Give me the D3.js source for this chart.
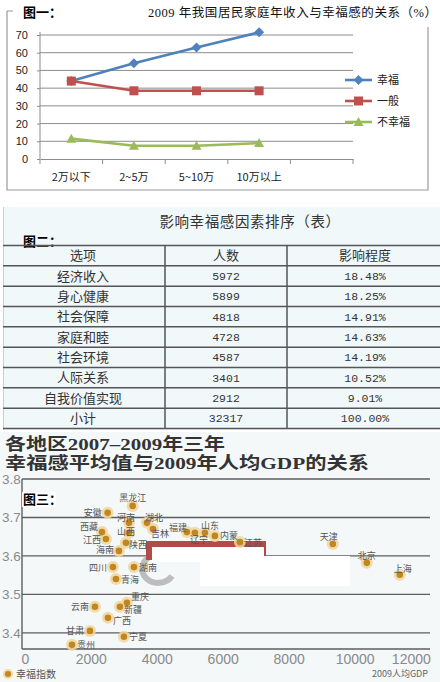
<!DOCTYPE html>
<html><head><meta charset="utf-8">
<script src="https://cdn.jsdelivr.net/npm/d3@7"></script>
<style>
html,body{margin:0;padding:0;background:#fff;}
svg{display:block;}
</style></head>
<body>
<svg id="c" width="440" height="682"></svg>
<script>
// ---------- Figure 1 data ----------
const incomeCats = ["2万以下", "2~5万", "5~10万", "10万以上"];
const seriesNames = ["幸福", "一般", "不幸福"];
const happy = [44, 54, 63, 71.5];
const normal = [44, 38.5, 38.5, 38.5];
const unhappy = [11.5, 7.5, 7.5, 9];
const yTicks1 = [0, 10, 20, 30, 40, 50, 60, 70];

// ---------- Figure 2 data ----------
const tableHeader = ["选项", "人数", "影响程度"];
const factorNames = ["经济收入", "身心健康", "社会保障", "家庭和睦", "社会环境", "人际关系", "自我价值实现", "小计"];
const factorCounts = ["5972", "5899", "4818", "4728", "4587", "3401", "2912", "32317"];
const factorShares = ["18.48%", "18.25%", "14.91%", "14.63%", "14.19%", "10.52%", "9.01%", "100.00%"];

// ---------- Figure 3 data ----------
const provinces = ["黑龙江","安徽","河南","湖北","吉林","山西","西藏","江西","陕西","海南","四川","湖南","青海",
  "福建","辽宁","山东","内蒙","江苏","天津","北京","上海","重庆","新疆","云南","广西","甘肃","宁夏","贵州"];
const gdpPerCapita = [3255,2497,3142,3688,3870,3142,2324,2445,3050,2839,2658,3294,2748,
  4900,5142,5445,5748,6506,9324,10355,11355,3082,2870,2112,2506,1961,2991,1415];
const happinessIdx = [3.730,3.712,3.686,3.686,3.670,3.660,3.662,3.644,3.634,3.613,3.571,3.571,3.540,
  3.662,3.660,3.660,3.652,3.636,3.631,3.582,3.551,3.478,3.468,3.468,3.439,3.405,3.390,3.369];
const xTicks3 = [0, 2000, 4000, 6000, 8000, 10000, 12000];
const yTicks3 = [3.4, 3.5, 3.6, 3.7, 3.8];

// label placement (style only)
const labelPlace = {
  "黑龙江":["middle",0,-8],"安徽":["end",-6,0],"河南":["middle",-3,-5],"湖北":["middle",7,-5],
  "吉林":["middle",7,4],"山西":["middle",-3,-1],"西藏":["end",-4,-6],"江西":["end",-5,0],
  "陕西":["start",3,2],"海南":["end",-5,-1],"四川":["end",-6,0],"湖南":["start",5,0],
  "青海":["start",5,0],"福建":["middle",-9,-5],"辽宁":["middle",4,7],"山东":["middle",5,-7],
  "内蒙":["start",5,0],"江苏":["start",4,0],"天津":["middle",-4,-8],"北京":["middle",0,-7],
  "上海":["middle",3,-6],"重庆":["start",4,-6],"新疆":["start",4,3],"云南":["end",-6,0],
  "广西":["start",5,3],"甘肃":["end",-6,0],"宁夏":["start",5,0],"贵州":["start",5,0]
};

const svg = d3.select("#c");
const CJK = "'Noto Sans CJK SC', 'Noto Sans', sans-serif";

// ================= Figure 1 =================
const g1 = svg.append("g");
g1.append("path").attr("d","M7,11 L13,11 M7,11 L7,190 L428,190 L428,27")
  .attr("fill","none").attr("stroke","#9a9a9a").attr("stroke-width",1.2);
g1.append("text").attr("x",23).attr("y",17).text("图一：")
  .attr("font-family",CJK).attr("font-size",13).attr("font-weight","bold").attr("fill","#000");
g1.append("text").attr("x",148).attr("y",17).text("2009 年我国居民家庭年收入与幸福感的关系（%）")
  .attr("font-family","'Liberation Serif', 'Noto Sans CJK SC', serif").attr("font-size",12.5)
  .attr("fill","#111").attr("textLength",289).attr("lengthAdjust","spacing");

const x1 = d3.scaleBand().domain([...incomeCats, "_pad"]).range([40, 353]);
const y1 = d3.scaleLinear().domain([0, 70]).range([159, 35]);

g1.selectAll(".g1grid").data(yTicks1.filter(d=>d>0)).enter().append("line")
  .attr("x1",40).attr("x2",353).attr("y1",d=>y1(d)).attr("y2",d=>y1(d))
  .attr("stroke","#8c8c8c").attr("stroke-width",1);
const ya1 = g1.append("g").attr("transform","translate(40,0)")
  .call(d3.axisLeft(y1).tickValues(yTicks1).tickSize(3).tickPadding(9));
ya1.select(".domain").attr("stroke","#8c8c8c").attr("d","M0,32V159");
ya1.selectAll(".tick line").attr("stroke","#8c8c8c");
ya1.selectAll("text").attr("font-family","'Liberation Sans', Arial, sans-serif").attr("font-size",11).attr("fill","#222");
const xa1 = g1.append("g").attr("transform","translate(0,159)")
  .call(d3.axisBottom(x1).tickSize(0).tickPadding(14).tickFormat(d=>d==="_pad"?"":d));
xa1.select(".domain").attr("stroke","#8c8c8c");
xa1.selectAll("text").attr("font-family",CJK).attr("font-size",11).attr("fill","#222");
const bounds = x1.domain().map(d=>x1(d)).concat([353]);
g1.selectAll(".xt1").data(bounds).enter().append("line")
  .attr("x1",d=>d).attr("x2",d=>d).attr("y1",159).attr("y2",164).attr("stroke","#8c8c8c");

const colors = ["#4F81BD","#C0504D","#9BBB59"];
const seriesVals = [happy, normal, unhappy];
const cx = c => x1(c) + x1.bandwidth()/2;
const line1 = d3.line().x((d,i)=>cx(incomeCats[i])).y(d=>y1(d));
function marker(sel, k, x, y){
  if(k===0){
    sel.append("path").attr("d",`M${x},${y-5}L${x+5},${y}L${x},${y+5}L${x-5},${y}Z`).attr("fill",colors[0]);
  } else if(k===1){
    sel.append("rect").attr("x",x-4.5).attr("y",y-4.5).attr("width",9).attr("height",9).attr("fill",colors[1]);
  } else {
    sel.append("path").attr("d",`M${x},${y-5}L${x+5},${y+4}L${x-5},${y+4}Z`).attr("fill",colors[2]);
  }
}
seriesVals.forEach((vals,k)=>{
  g1.append("path").datum(vals).attr("d",line1).attr("fill","none")
    .attr("stroke",colors[k]).attr("stroke-width",2.6);
  vals.forEach((v,i)=>marker(g1, k, cx(incomeCats[i]), y1(v)));
});
seriesNames.forEach((n,k)=>{
  const ly = 80 + k*21;
  g1.append("line").attr("x1",345).attr("x2",372).attr("y1",ly).attr("y2",ly)
    .attr("stroke",colors[k]).attr("stroke-width",2.6);
  marker(g1,k,358.5,ly);
  g1.append("text").attr("x",377).attr("y",ly+4).text(n)
    .attr("font-family",CJK).attr("font-size",11).attr("fill","#222");
});

// ================= Figure 2 (table) =================
const g2 = svg.append("g");
g2.append("rect").attr("x",3).attr("y",207).attr("width",437).attr("height",223).attr("fill","#f1f8fa");
g2.append("line").attr("x1",3.5).attr("x2",3.5).attr("y1",207).attr("y2",430).attr("stroke","#c8d0d4");
g2.append("text").attr("x",250).attr("y",227).attr("text-anchor","middle").text("影响幸福感因素排序（表）")
  .attr("font-family",CJK).attr("font-size",14.5).attr("fill","#333").attr("letter-spacing",0.6);
g2.append("text").attr("x",23).attr("y",246).text("图二：")
  .attr("font-family",CJK).attr("font-size",13).attr("font-weight","bold").attr("fill","#000");

const rowsAll = [tableHeader].concat(factorNames.map((n,i)=>[n, factorCounts[i], factorShares[i]]));
const yRow = d3.scaleBand().domain(d3.range(rowsAll.length)).range([245.5, 428.5]);
const colEdges = [3, 165, 287, 443];
const hLines = d3.range(rowsAll.length).map(i=>yRow(i)).concat([428.5]);
g2.selectAll(".hl").data(hLines).enter().append("line")
  .attr("x1",3).attr("x2",440).attr("y1",d=>d).attr("y2",d=>d)
  .attr("stroke","#555").attr("stroke-width",1.5);
[165, 287].forEach(xv=>{
  g2.append("line").attr("x1",xv).attr("x2",xv).attr("y1",245.5).attr("y2",428.5)
    .attr("stroke","#555").attr("stroke-width",1.5);
});
rowsAll.forEach((row,ri)=>{
  row.forEach((cell,ci)=>{
    const isNum = ci>0 && ri>0;
    g2.append("text")
      .attr("x",(colEdges[ci]+colEdges[ci+1])/2 + (ci===0?-1:0))
      .attr("y",yRow(ri)+yRow.bandwidth()/2+ (isNum?4:4.5))
      .attr("text-anchor","middle").text(cell)
      .attr("font-family", isNum ? "'Liberation Mono', 'DejaVu Sans Mono', monospace" : CJK)
      .attr("font-size", isNum ? 11.5 : 13).attr("fill","#333");
  });
});

// ================= Figure 3 =================
const g3 = svg.append("g");
g3.append("rect").attr("x",0).attr("y",432).attr("width",440).attr("height",250).attr("fill","#f4f8f9");
const titleFont = "'Liberation Serif', 'Noto Sans CJK SC', serif";
g3.append("text").attr("x",5).attr("y",450).text("各地区2007–2009年三年")
  .attr("font-family",titleFont).attr("font-size",17).attr("font-weight","bold").attr("fill","#333")
  .attr("textLength",220).attr("lengthAdjust","spacingAndGlyphs");
g3.append("text").attr("x",5).attr("y",469).text("幸福感平均值与2009年人均GDP的关系")
  .attr("font-family",titleFont).attr("font-size",17).attr("font-weight","bold").attr("fill","#333")
  .attr("textLength",364).attr("lengthAdjust","spacingAndGlyphs");

const x3 = d3.scaleLinear().domain([-100, 12270]).range([22, 430]);
const y3 = d3.scaleLinear().domain([3.358, 3.8]).range([649, 479]);

g3.selectAll(".gr3").data(yTicks3).enter().append("line")
  .attr("x1",22).attr("x2",430).attr("y1",d=>y3(d)).attr("y2",d=>y3(d))
  .attr("stroke","#5e5e5e").attr("stroke-width",1.4);
g3.append("line").attr("x1",22).attr("x2",430).attr("y1",649).attr("y2",649)
  .attr("stroke","#5e5e5e").attr("stroke-width",1.4);
g3.append("line").attr("x1",22).attr("x2",22).attr("y1",479).attr("y2",649)
  .attr("stroke","#5e5e5e").attr("stroke-width",1.4);

g3.selectAll(".yl3").data(yTicks3).enter().append("text")
  .attr("x",2).attr("y",d=>y3(d)+5).text(d=>d.toFixed(1))
  .attr("font-family","'Liberation Sans', Arial, sans-serif").attr("font-size",13.5).attr("fill","#8a8a8a");
const xl = g3.selectAll(".xl3").data(xTicks3).enter().append("text")
  .attr("x",d=>x3(d)).attr("y",664).attr("text-anchor","middle").text(d=>d)
  .attr("font-family","'Liberation Sans', Arial, sans-serif").attr("font-size",14).attr("fill","#8a8a8a");
xl.each(function(){
  const b = this.getBBox();
  if(b.x + b.width > 431){ d3.select(this).attr("x", +d3.select(this).attr("x") - (b.x+b.width-431)); }
});
g3.append("text").attr("x",428).attr("y",677).attr("text-anchor","end").text("2009人均GDP")
  .attr("font-family",CJK).attr("font-size",9).attr("fill","#666");

// obscuring marks present in the original picture
g3.append("path").attr("d","M152,556 A16,14 0 1 0 172,576").attr("fill","none")
  .attr("stroke","#bdbdbd").attr("stroke-width",6);
g3.append("rect").attr("x",146).attr("y",541).attr("width",120).attr("height",19).attr("fill","#b34a4a");
g3.append("rect").attr("x",152).attr("y",547).attr("width",112).attr("height",15).attr("fill","#ffffff");
g3.append("rect").attr("x",200).attr("y",556).attr("width",150).attr("height",30).attr("fill","#ffffff");

const pts = provinces.map((p,i)=>({p, x:x3(gdpPerCapita[i]), y:y3(happinessIdx[i])}));
g3.selectAll(".halo").data(pts).enter().append("circle")
  .attr("cx",d=>d.x).attr("cy",d=>d.y).attr("r",6).attr("fill","#f0d6a0").attr("opacity",0.85);
g3.selectAll(".dot").data(pts).enter().append("circle")
  .attr("cx",d=>d.x).attr("cy",d=>d.y).attr("r",3.3).attr("fill","#c2861f");
g3.selectAll(".lab").data(pts).enter().append("text")
  .attr("x",d=>d.x + labelPlace[d.p][1]).attr("y",d=>d.y + labelPlace[d.p][2] + 3.5)
  .attr("text-anchor",d=>labelPlace[d.p][0]).text(d=>d.p)
  .attr("font-family",CJK).attr("font-size",9).attr("fill","#555");

g3.append("rect").attr("x",22).attr("y",492).attr("width",34).attr("height",15).attr("fill","#fff");
g3.append("text").attr("x",23).attr("y",504).text("图三：")
  .attr("font-family",CJK).attr("font-size",13).attr("font-weight","bold").attr("fill","#000");

g3.append("circle").attr("cx",8).attr("cy",674).attr("r",5).attr("fill","#f0d6a0");
g3.append("circle").attr("cx",8).attr("cy",674).attr("r",3).attr("fill","#c2861f");
g3.append("text").attr("x",16).attr("y",678).text("幸福指数")
  .attr("font-family",CJK).attr("font-size",10).attr("fill","#555");
</script>
</body></html>
